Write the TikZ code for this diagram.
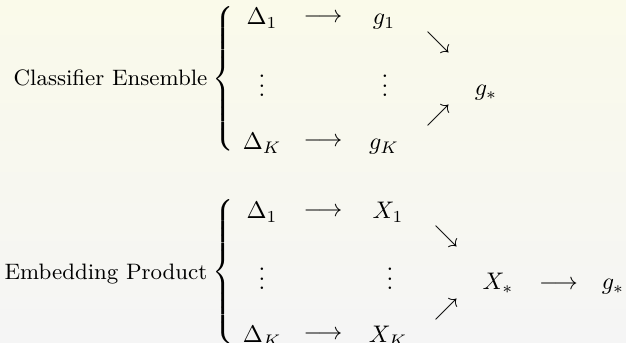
\documentclass[tikz,border=0pt]{standalone}
\usepackage{fontspec}
\definecolor{bgtop}{RGB}{250,250,234}
\definecolor{bgbot}{RGB}{245,245,245}
\begin{document}
\begin{tikzpicture}[x=0.41667pt,y=-0.41667pt,
  lbl/.style={inner sep=0pt,anchor=base,font=\fontsize{9.3pt}{11pt}\selectfont},
  mb/.style={inner sep=0pt,anchor=base},
  mc/.style={inner sep=0pt,anchor=center},
  bracebox/.style={inner sep=0pt,anchor=center}]
\shade[top color=bgtop,bottom color=bgbot] (0,0) rectangle (626,343);
\useasboundingbox (0,0) rectangle (626,343);
\newcommand{\bigbrace}{$\nulldelimiterspace=0pt\delimitershortfall=0pt\delimiterfactor=1000\vcenter{\hbox{$\left\{\vrule height 26.5pt depth 26.5pt width 0pt\right.$}}$}
% ---------- Classifier Ensemble ----------
\node[lbl] (lab1) at (110.5,86) {Classifier Ensemble};
\node[bracebox] (br1) at (223,79) {\bigbrace};
\node[mb] (d11) at (262,25) {$\Delta_1$};
\node[mc] (a11) at (323,18.3) {$\longrightarrow$};
\node[mb] (g1) at (384,25) {$g_1$};
\node[mb] (d1v) at (262,97) {$\vdots$};
\node[mb] (g1v) at (385,97) {$\vdots$};
\node[mb] (d1K) at (262,150) {$\Delta_K$};
\node[mc] (a1K) at (323,142.3) {$\longrightarrow$};
\node[mb] (gK) at (384,150) {$g_K$};
\node[mc] (se1) at (438,43) {$\searrow$};
\node[mc] (ne1) at (438,116) {$\nearrow$};
\node[mb] (gs1) at (486,96) {$g_*$};
% ---------- Embedding Product ----------
\node[lbl] (lab2) at (106,280) {Embedding Product};
\node[bracebox] (br2) at (223,272) {\bigbrace};
\node[mb] (d21) at (262,219) {$\Delta_1$};
\node[mc] (a21) at (323,212) {$\longrightarrow$};
\node[mb] (x1) at (388,219) {$X_1$};
\node[mb] (d2v) at (262,290) {$\vdots$};
\node[mb] (x2v) at (390,290) {$\vdots$};
\node[mb] (d2K) at (262,343) {$\Delta_K$};
\node[mc] (a2K) at (323,335.5) {$\longrightarrow$};
\node[mb] (xK) at (388,343) {$X_K$};
\node[mc] (se2) at (446,237) {$\searrow$};
\node[mc] (ne2) at (446,310) {$\nearrow$};
\node[mb] (xs) at (498,290) {$X_*$};
\node[mc] (a2s) at (558.5,284.7) {$\longrightarrow$};
\node[mb] (gs2) at (613,290) {$g_*$};
\end{tikzpicture}
\end{document}
